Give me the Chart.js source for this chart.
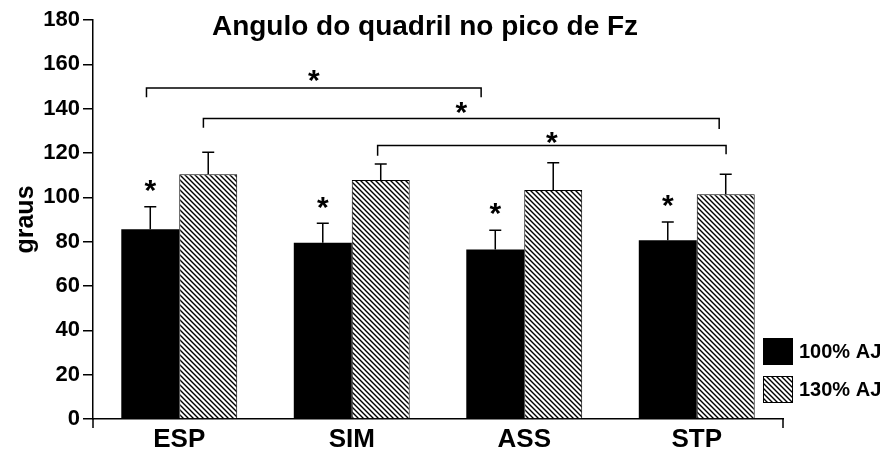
<!DOCTYPE html>
<html>
<head>
<meta charset="utf-8">
<script src="https://cdn.jsdelivr.net/npm/chart.js@4"></script>
<style>
  body { margin: 0; background: #fff; }
  canvas { display: block; }
</style>
</head>
<body>
<canvas id="myChart" width="887" height="454"></canvas>
<script>
// Labels
let categories = ['ESP', 'SIM', 'ASS', 'STP'];
let seriesNames = ['100% AJ', '130% AJ'];

// Datas (mean and upper error)
let mean100 = [85.6, 79.5, 76.5, 80.6];
let sd100   = [10.2,  8.8,  8.7,  8.3];
let mean130 = [110.4, 107.8, 103.3, 101.4];
let sd130   = [  9.9,   7.2,  12.3,   9.0];

// significance brackets (category units on x, degrees on y)
let brackets = [
    { from: -0.19, to: 1.75, level: 149.3, leftEnd: 145.2, rightEnd: 145.2, star: 153.8 },
    { from:  0.14, to: 3.13, level: 135.6, leftEnd: 131.4, rightEnd: 130.8, star: 139.4 },
    { from:  1.15, to: 3.17, level: 123.4, leftEnd: 118.8, rightEnd: 119.4, star: 126.1 }
];

function hatch() {
    let c = document.createElement('canvas');
    c.width = 5; c.height = 5;
    let g = c.getContext('2d');
    g.fillStyle = '#fff';
    g.fillRect(0, 0, 5, 5);
    g.strokeStyle = '#000';
    g.lineWidth = 1.4;
    g.beginPath();
    g.moveTo(-1, -1); g.lineTo(6, 6);
    g.moveTo(-1, 4); g.lineTo(1, 6);
    g.moveTo(4, -1); g.lineTo(6, 1);
    g.stroke();
    return g.createPattern(c, 'repeat');
}
let hatchFill = hatch();

function star(ctx, x, y) {
    ctx.save();
    ctx.font = 'bold 30px "Liberation Sans", Arial, sans-serif';
    ctx.textAlign = 'center';
    ctx.textBaseline = 'alphabetic';
    ctx.fillStyle = '#000';
    ctx.fillText('*', x, y + 30 * 0.41);
    ctx.restore();
}

let extras = {
    id: 'extras',
    afterDatasetsDraw(chart) {
        let ctx = chart.ctx;
        let xs = chart.scales.x, ys = chart.scales.y;
        let area = chart.chartArea;
        ctx.save();
        ctx.strokeStyle = '#000';
        ctx.lineWidth = 1.5;

        // error bars
        let sds = [sd100, sd130];
        chart.data.datasets.forEach((ds, i) => {
            chart.getDatasetMeta(i).data.forEach((bar, j) => {
                let top = ys.getPixelForValue(ds.data[j] + sds[i][j]);
                ctx.beginPath();
                ctx.moveTo(bar.x, bar.y);
                ctx.lineTo(bar.x, top);
                ctx.moveTo(bar.x - 6, top);
                ctx.lineTo(bar.x + 6, top);
                ctx.stroke();
                if (i === 0) star(ctx, bar.x, top - 19);
            });
        });

        // brackets
        brackets.forEach(b => {
            let x0 = xs.getPixelForValue(b.from), x1 = xs.getPixelForValue(b.to);
            let y = ys.getPixelForValue(b.level);
            ctx.beginPath();
            ctx.moveTo(x0, ys.getPixelForValue(b.leftEnd));
            ctx.lineTo(x0, y);
            ctx.lineTo(x1, y);
            ctx.lineTo(x1, ys.getPixelForValue(b.rightEnd));
            ctx.stroke();
            star(ctx, (x0 + x1) / 2, ys.getPixelForValue(b.star));
        });

        // axis end ticks
        ctx.beginPath();
        ctx.moveTo(area.left, area.bottom);
        ctx.lineTo(area.left, area.bottom + 9);
        ctx.moveTo(area.right, area.bottom);
        ctx.lineTo(area.right, area.bottom + 9);
        ctx.stroke();

        // title
        ctx.fillStyle = '#000';
        ctx.font = 'bold 28px "Liberation Sans", Arial, sans-serif';
        ctx.textAlign = 'center';
        ctx.textBaseline = 'alphabetic';
        ctx.fillText('Angulo do quadril no pico de Fz', 425, 35);

        // legend
        ctx.font = 'bold 20px "Liberation Sans", Arial, sans-serif';
        ctx.textAlign = 'left';
        ctx.textBaseline = 'middle';
        chart.data.datasets.forEach((ds, i) => {
            let bx = 763, by = 338 + i * 38;
            ctx.fillStyle = ds.backgroundColor;
            ctx.fillRect(bx, by, 30, 27);
            if (i === 1) {
                ctx.lineWidth = 1;
                ctx.strokeRect(bx + 0.5, by + 0.5, 29, 26);
            }
            ctx.fillStyle = '#000';
            ctx.fillText(ds.label, bx + 36, by + 14);
        });
        ctx.restore();
    }
};

let ctx = document.getElementById('myChart').getContext('2d');
let myChart = new Chart(ctx, {
    type: 'bar',
    data: {
        labels: categories,
        datasets: [
            {
                data: mean100,
                label: seriesNames[0],
                backgroundColor: '#000',
                borderWidth: 0
            },
            {
                data: mean130,
                label: seriesNames[1],
                backgroundColor: hatchFill,
                borderColor: '#000',
                borderWidth: 1
            }
        ]
    },
    options: {
        responsive: false,
        animation: false,
        layout: { padding: { top: 20, right: 104, left: 0, bottom: 0 } },
        datasets: { bar: { categoryPercentage: 0.672, barPercentage: 1 } },
        plugins: {
            legend: { display: false },
            tooltip: { enabled: false }
        },
        scales: {
            x: {
                afterFit: s => { s.height = 35; },
                grid: { display: false },
                border: { color: '#000', width: 1.5 },
                ticks: {
                    color: '#000',
                    padding: -3,
                    font: { family: '"Liberation Sans", Arial', size: 26, weight: 'bold' }
                }
            },
            y: {
                min: 0,
                max: 180,
                afterFit: s => { s.width = 93; },
                grid: { drawOnChartArea: false, color: '#000', lineWidth: 1.5, tickLength: 10 },
                border: { color: '#000', width: 1.5 },
                ticks: {
                    stepSize: 20,
                    color: '#000',
                    padding: 3,
                    font: { family: '"Liberation Sans", Arial', size: 22, weight: 'bold' }
                },
                title: {
                    display: true,
                    text: 'graus',
                    color: '#000',
                    padding: { top: 11, bottom: 0 },
                    font: { family: '"Liberation Sans", Arial', size: 25, weight: 'bold' }
                }
            }
        }
    },
    plugins: [extras]
});
</script>
</body>
</html>
